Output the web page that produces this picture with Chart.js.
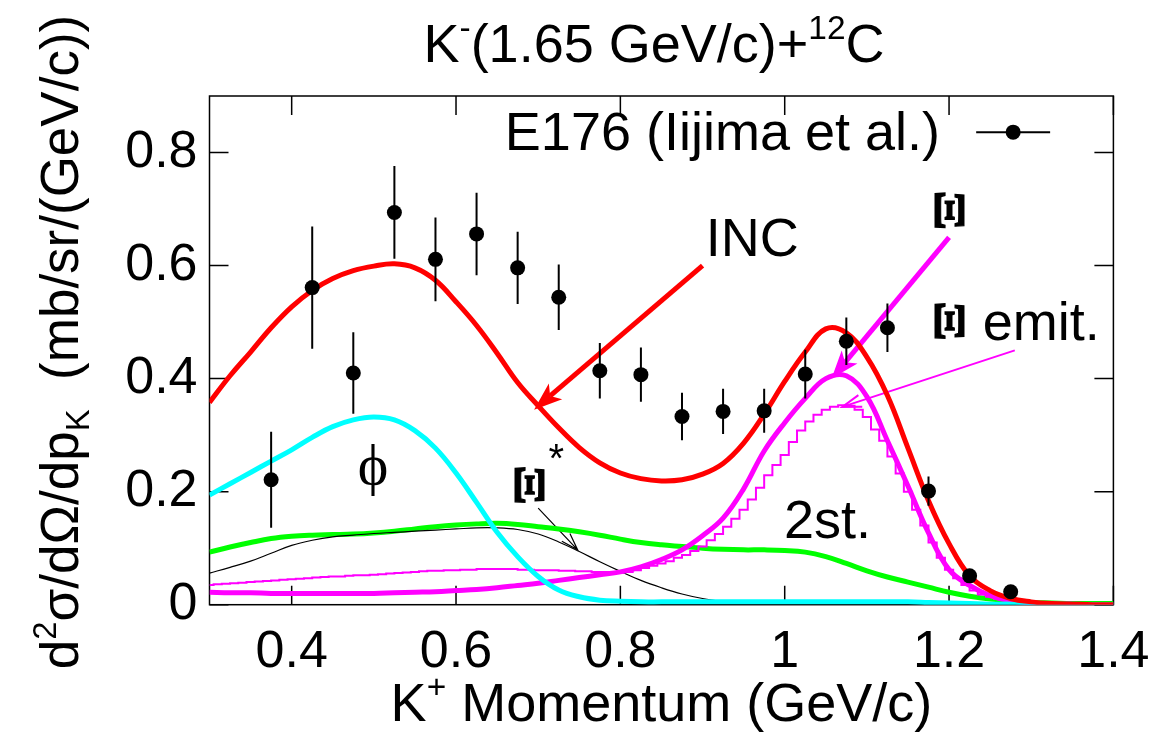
<!DOCTYPE html>
<html>
<head>
<meta charset="utf-8">
<script src="https://cdn.jsdelivr.net/npm/chart.js@4.4.1/dist/chart.umd.min.js"></script>
<style>
  html, body { margin: 0; padding: 0; background: #fff; }
  #wrap { width: 1155px; height: 736px; }
</style>
</head>
<body>
<div id="wrap"><canvas id="c" width="1155" height="736"></canvas></div>
<script>
// ---- measured spectrum: E176 (Iijima et al.) ----
const pointMomentum = [0.375, 0.425, 0.475, 0.525, 0.575, 0.625, 0.675, 0.725, 0.775, 0.825,
                       0.875, 0.925, 0.975, 1.025, 1.075, 1.125, 1.175, 1.225, 1.275];
const pointValue    = [0.221, 0.561, 0.410, 0.694, 0.611, 0.656, 0.596, 0.544, 0.414, 0.407,
                       0.333, 0.342, 0.343, 0.408, 0.466, 0.490, 0.201, 0.051, 0.023];
const pointError    = [0.085, 0.108, 0.072, 0.082, 0.074, 0.073, 0.064, 0.058, 0.049, 0.048,
                       0.042, 0.040, 0.039, 0.043, 0.042, 0.043, 0.026, 0.008, 0.005];

// ---- model curves on a common momentum grid (GeV/c) ----
const momentum = [0.300, 0.325, 0.350, 0.375, 0.400, 0.425, 0.450, 0.475, 0.500, 0.525,
                  0.550, 0.575, 0.600, 0.625, 0.650, 0.675, 0.700, 0.725, 0.750, 0.775,
                  0.800, 0.825, 0.850, 0.875, 0.900, 0.925, 0.950, 0.975, 1.000, 1.025,
                  1.050, 1.075, 1.100, 1.125, 1.150, 1.175, 1.200, 1.225, 1.250, 1.275,
                  1.300, 1.325, 1.350, 1.375, 1.400];
const incTotal = [0.358, 0.405, 0.447, 0.490, 0.527, 0.556, 0.577, 0.591, 0.599, 0.603,
                  0.596, 0.574, 0.536, 0.494, 0.445, 0.393, 0.352, 0.313, 0.278, 0.251,
                  0.233, 0.223, 0.219, 0.221, 0.231, 0.250, 0.286, 0.337, 0.395, 0.447,
                  0.488, 0.481, 0.438, 0.370, 0.277, 0.184, 0.108, 0.051, 0.025, 0.011,
                  0.005, 0.002, 0.001, 0.000, 0.000];
const phiProd  = [0.194, 0.214, 0.234, 0.254, 0.274, 0.296, 0.315, 0.327, 0.332, 0.327,
                  0.308, 0.277, 0.233, 0.181, 0.128, 0.085, 0.050, 0.026, 0.014, 0.008,
                  0.006, 0.005, 0.005, 0.005, 0.005, 0.005, 0.005, 0.005, 0.005, 0.005,
                  0.005, 0.005, 0.005, 0.005, 0.005, 0.004, 0.003, 0.002, 0.001, 0.001,
                  0.000, 0.000, 0.000, 0.000, 0.000];
const xiProd   = [0.022, 0.021, 0.021, 0.020, 0.020, 0.020, 0.020, 0.020, 0.020, 0.021,
                  0.022, 0.023, 0.025, 0.027, 0.030, 0.034, 0.038, 0.043, 0.048, 0.053,
                  0.058, 0.067, 0.080, 0.097, 0.122, 0.153, 0.205, 0.272, 0.322, 0.365,
                  0.400, 0.405, 0.368, 0.290, 0.210, 0.127, 0.062, 0.034, 0.016, 0.007,
                  0.003, 0.001, 0.001, 0.000, 0.000];
const xiStar   = [0.056, 0.066, 0.077, 0.091, 0.105, 0.114, 0.120, 0.123, 0.126, 0.128,
                  0.130, 0.132, 0.134, 0.136, 0.136, 0.133, 0.125, 0.111, 0.094, 0.076,
                  0.059, 0.043, 0.030, 0.019, 0.011, 0.006, 0.003, 0.002, 0.001, 0.000,
                  0.000, 0.000, 0.000, 0.000, 0.000, 0.000, 0.000, 0.000, 0.000, 0.000,
                  0.000, 0.000, 0.000, 0.000, 0.000];
const twoStep  = [0.093, 0.102, 0.110, 0.117, 0.121, 0.123, 0.124, 0.125, 0.127, 0.130,
                  0.134, 0.138, 0.141, 0.143, 0.144, 0.142, 0.138, 0.134, 0.129, 0.123,
                  0.116, 0.110, 0.106, 0.103, 0.100, 0.098, 0.097, 0.097, 0.096, 0.093,
                  0.085, 0.073, 0.060, 0.049, 0.040, 0.031, 0.022, 0.015, 0.010, 0.007,
                  0.004, 0.003, 0.002, 0.002, 0.002];

// ---- Xi emission histogram, 0.01 GeV/c bins ----
const binMomentum = [0.30, 0.31, 0.32, 0.33, 0.34, 0.35, 0.36, 0.37, 0.38, 0.39,
                     0.40, 0.41, 0.42, 0.43, 0.44, 0.45, 0.46, 0.47, 0.48, 0.49,
                     0.50, 0.51, 0.52, 0.53, 0.54, 0.55, 0.56, 0.57, 0.58, 0.59,
                     0.60, 0.61, 0.62, 0.63, 0.64, 0.65, 0.66, 0.67, 0.68, 0.69,
                     0.70, 0.71, 0.72, 0.73, 0.74, 0.75, 0.76, 0.77, 0.78, 0.79,
                     0.80, 0.81, 0.82, 0.83, 0.84, 0.85, 0.86, 0.87, 0.88, 0.89,
                     0.90, 0.91, 0.92, 0.93, 0.94, 0.95, 0.96, 0.97, 0.98, 0.99,
                     1.00, 1.01, 1.02, 1.03, 1.04, 1.05, 1.06, 1.07, 1.08, 1.09,
                     1.10, 1.11, 1.12, 1.13, 1.14, 1.15, 1.16, 1.17, 1.18, 1.19,
                     1.20, 1.21, 1.22, 1.23, 1.24, 1.25, 1.26, 1.27, 1.28, 1.29,
                     1.30, 1.31, 1.32, 1.33, 1.34, 1.35, 1.36, 1.37, 1.38, 1.39,
                     1.40];
const xiEmission  = [0.035, 0.036, 0.037, 0.038, 0.039, 0.040, 0.041, 0.042, 0.043, 0.044,
                     0.045, 0.046, 0.047, 0.048, 0.049, 0.050, 0.050, 0.051, 0.052, 0.052,
                     0.053, 0.054, 0.055, 0.056, 0.057, 0.058, 0.059, 0.060, 0.060, 0.061,
                     0.061, 0.062, 0.062, 0.063, 0.063, 0.063, 0.063, 0.063, 0.062, 0.062,
                     0.061, 0.061, 0.061, 0.060, 0.060, 0.059, 0.059, 0.058, 0.058, 0.057,
                     0.057, 0.058, 0.061, 0.065, 0.069, 0.073, 0.077, 0.083, 0.088, 0.095,
                     0.103, 0.114, 0.125, 0.138, 0.152, 0.168, 0.186, 0.207, 0.229, 0.247,
                     0.265, 0.288, 0.308, 0.324, 0.336, 0.345, 0.350, 0.353, 0.352, 0.345,
                     0.332, 0.310, 0.290, 0.262, 0.232, 0.200, 0.168, 0.140, 0.110, 0.083,
                     0.062, 0.047, 0.035, 0.025, 0.018, 0.014, 0.010, 0.008, 0.006, 0.004,
                     0.003, 0.002, 0.001, 0.000, 0.000, 0.000, 0.000, 0.000, 0.000, 0.000,
                     0.000];

// ---- axis ticks ----
const xTickValues = [0.4, 0.6, 0.8, 1.0, 1.2, 1.4];
const xTickLabels = ['0.4', '0.6', '0.8', '1', '1.2', '1.4'];
const yTickValues = [0, 0.2, 0.4, 0.6, 0.8];
const yTickLabels = ['0', '0.2', '0.4', '0.6', '0.8'];

// ---------------------------------------------------------------------------
const SANS = '"Liberation Sans", Arial, Helvetica, sans-serif';
const SERIF = '"Liberation Serif", "DejaVu Serif", "Times New Roman", serif';
const TEXT_SIZE = 54;

const zip = (xs, ys) => xs.map((x, i) => ({ x, y: ys[i] }));

// arrows, anchored in data coordinates
const arrows = [
  { from: [0.900, 0.600], to: [0.695, 0.345], color: '#ff0000', width: 5, head: 30, angle: 20, filled: true },
  { from: [1.200, 0.650], to: [1.057, 0.400], color: '#ff00ff', width: 5, head: 30, angle: 20, filled: true },
  { from: [1.280, 0.450], to: [1.070, 0.350], color: '#ff00ff', width: 2, head: 20, angle: 18, filled: false },
  { from: [0.700, 0.171], to: [0.748, 0.097], color: '#000000', width: 1.2, head: 18, angle: 18, filled: false }
];

// draw a run of text with super/subscripts, aligned at (x, y baseline)
function drawRich(ctx, parts, x, y, align, size, family) {
  const scale = 0.62;
  const setFont = p => { ctx.font = `${(p.sup || p.sub) ? size * scale : size}px ${family}`; };
  let total = 0;
  parts.forEach(p => { setFont(p); total += ctx.measureText(p.t).width; });
  let cx = align === 'center' ? x - total / 2 : (align === 'right' ? x - total : x);
  ctx.textAlign = 'left';
  ctx.textBaseline = 'alphabetic';
  parts.forEach(p => {
    setFont(p);
    const dy = p.sup ? -0.42 * size : (p.sub ? 0.2 * size : 0);
    ctx.fillText(p.t, cx, y + dy);
    cx += ctx.measureText(p.t).width;
  });
}

function drawArrow(ctx, x1, y1, x2, y2, o) {
  const ang = Math.atan2(y2 - y1, x2 - x1);
  const a = o.angle * Math.PI / 180;
  const L = o.head;
  ctx.save();
  ctx.strokeStyle = o.color;
  ctx.fillStyle = o.color;
  ctx.lineWidth = o.width;
  ctx.lineCap = 'butt';
  const wing = s => [x2 - L * Math.cos(ang + s * a), y2 - L * Math.sin(ang + s * a)];
  if (o.filled) {
    const back = L * Math.cos(a) * 0.75;
    const nx = x2 - back * Math.cos(ang), ny = y2 - back * Math.sin(ang);
    ctx.beginPath(); ctx.moveTo(x1, y1); ctx.lineTo(nx, ny); ctx.stroke();
    const w1 = wing(1), w2 = wing(-1);
    ctx.beginPath();
    ctx.moveTo(x2, y2); ctx.lineTo(w1[0], w1[1]); ctx.lineTo(nx, ny); ctx.lineTo(w2[0], w2[1]);
    ctx.closePath(); ctx.fill();
  } else {
    ctx.beginPath(); ctx.moveTo(x1, y1); ctx.lineTo(x2, y2);
    const w1 = wing(1), w2 = wing(-1);
    ctx.moveTo(w1[0], w1[1]); ctx.lineTo(x2, y2); ctx.lineTo(w2[0], w2[1]);
    ctx.stroke();
  }
  ctx.restore();
}

// Xi glyph turned a quarter turn, its ink fitted to a boxW x boxH box centred at (px, py)
function drawXi(ctx, px, py, boxW, boxH) {
  ctx.save();
  ctx.font = `bold 100px ${SERIF}`;
  ctx.textAlign = 'left';
  ctx.textBaseline = 'alphabetic';
  const m = ctx.measureText('\u039E');
  const inkW = m.actualBoundingBoxLeft + m.actualBoundingBoxRight;
  const inkH = m.actualBoundingBoxAscent + m.actualBoundingBoxDescent;
  const cx = (m.actualBoundingBoxRight - m.actualBoundingBoxLeft) / 2;
  const cy = (m.actualBoundingBoxDescent - m.actualBoundingBoxAscent) / 2;
  const sx = (boxH - 1) / inkW, sy = (boxW - 1) / inkH;
  ctx.translate(px, py);
  ctx.rotate(Math.PI / 2);
  // glyph x now runs down the page, glyph y runs leftwards
  ctx.scale(sx, sy);
  ctx.fillText('\u039E', -cx, -cy);
  ctx.strokeStyle = ctx.fillStyle;
  ctx.lineWidth = 1 / Math.min(sx, sy);
  ctx.strokeText('\u039E', -cx, -cy);
  ctx.restore();
}

// box frame with inward ticks on all four sides, plus arrows
const framePlugin = {
  id: 'frame',
  beforeDatasetsDraw(chart) {
    const { ctx, chartArea: a, scales: { x, y } } = chart;
    ctx.save();
    ctx.strokeStyle = '#000';
    ctx.lineWidth = 1.5;
    ctx.strokeRect(a.left, a.top, a.right - a.left, a.bottom - a.top);
    const L = 19;
    ctx.beginPath();
    x.ticks.forEach(t => {
      const px = x.getPixelForValue(t.value);
      ctx.moveTo(px, a.bottom); ctx.lineTo(px, a.bottom - L);
      ctx.moveTo(px, a.top); ctx.lineTo(px, a.top + L);
    });
    y.ticks.forEach(t => {
      const py = y.getPixelForValue(t.value);
      ctx.moveTo(a.left, py); ctx.lineTo(a.left + L, py);
      ctx.moveTo(a.right, py); ctx.lineTo(a.right - L, py);
    });
    ctx.stroke();
    ctx.restore();
    arrows.forEach(ar => {
      drawArrow(ctx,
        x.getPixelForValue(ar.from[0]), y.getPixelForValue(ar.from[1]),
        x.getPixelForValue(ar.to[0]), y.getPixelForValue(ar.to[1]), ar);
    });
  }
};

// vertical error bars under the measured points
const errorBarPlugin = {
  id: 'errorBars',
  beforeDatasetDraw(chart, args) {
    if (args.index !== 0) return;
    const { ctx, scales: { x, y } } = chart;
    ctx.save();
    ctx.strokeStyle = '#000';
    ctx.lineWidth = 2;
    ctx.beginPath();
    pointMomentum.forEach((m, i) => {
      const px = x.getPixelForValue(m);
      ctx.moveTo(px, y.getPixelForValue(pointValue[i] + pointError[i]));
      ctx.lineTo(px, y.getPixelForValue(pointValue[i] - pointError[i]));
    });
    ctx.stroke();
    ctx.restore();
  }
};

// curve labels, key and axis titles
const labelPlugin = {
  id: 'labels',
  afterDatasetsDraw(chart) {
    const { ctx, scales: { x, y } } = chart;
    const X = v => x.getPixelForValue(v), Y = v => y.getPixelForValue(v);
    ctx.save();
    ctx.fillStyle = '#000';
    ctx.textAlign = 'left';
    ctx.textBaseline = 'alphabetic';
    ctx.font = `${TEXT_SIZE}px ${SANS}`;
    ctx.fillText('INC', X(0.904), Y(0.617));
    ctx.fillText('2st.', X(0.999), Y(0.118));
    ctx.fillText('emit.', X(1.241), Y(0.469));
    drawXi(ctx, X(1.201), Y(0.698), 30, 36);
    drawXi(ctx, X(1.200), Y(0.502), 30, 36);
    drawXi(ctx, X(0.690), Y(0.212), 30, 36);
    ctx.font = `40px ${SANS}`;
    ctx.textAlign = 'center';
    ctx.textBaseline = 'middle';
    ctx.fillText('*', X(0.722), Y(0.255));
    ctx.font = `58px ${SERIF}`;
    ctx.fillText('\u03D5', X(0.499), Y(0.240));

    // key
    ctx.font = `${TEXT_SIZE}px ${SANS}`;
    ctx.textAlign = 'right';
    ctx.textBaseline = 'alphabetic';
    ctx.fillText('E176 (Iijima et al.)', X(1.189), Y(0.805));
    ctx.strokeStyle = '#000';
    ctx.lineWidth = 2;
    ctx.beginPath();
    ctx.moveTo(X(1.233), Y(0.836)); ctx.lineTo(X(1.323), Y(0.836));
    ctx.stroke();
    ctx.beginPath();
    ctx.arc(X(1.278), Y(0.836), 7.5, 0, Math.PI * 2);
    ctx.fill();
    ctx.restore();
  },
  afterDraw(chart) {
    const { ctx, chartArea: a } = chart;
    ctx.save();
    ctx.fillStyle = '#000';
    drawRich(ctx, [{ t: 'K' }, { t: '-', sup: true }, { t: '(1.65 GeV/c)+' }, { t: '12', sup: true }, { t: 'C' }],
             654, 62, 'center', TEXT_SIZE, SANS);
    drawRich(ctx, [{ t: 'K' }, { t: '+', sup: true }, { t: ' Momentum (GeV/c)' }],
             (a.left + a.right) / 2, 721, 'center', TEXT_SIZE, SANS);
    ctx.translate(78, 342);
    ctx.rotate(-Math.PI / 2);
    drawRich(ctx, [{ t: 'd' }, { t: '2', sup: true }, { t: '\u03C3/d\u03A9/dp' }, { t: 'K', sub: true },
                   { t: '  (mb/sr/(GeV/c))' }], 0, 0, 'center', 53, SANS);
    ctx.restore();
  }
};

const curve = (label, xs, ys, color, width, order) => ({
  label, data: zip(xs, ys), borderColor: color, backgroundColor: color,
  borderWidth: width, pointRadius: 0, fill: false, order,
  tension: 0.4, borderJoinStyle: 'round'
});

new Chart(document.getElementById('c'), {
  type: 'line',
  data: {
    datasets: [
      { label: 'E176 (Iijima et al.)', data: zip(pointMomentum, pointValue), showLine: false,
        pointRadius: 7.5, pointBackgroundColor: '#000', pointBorderWidth: 0, order: 0 },
      curve('INC', momentum, incTotal, '#ff0000', 5, 1),
      curve('\u03C6', momentum, phiProd, '#00ffff', 5, 2),
      curve('\u039E', momentum, xiProd, '#ff00ff', 5, 3),
      { label: '\u039E emit.', data: zip(binMomentum, xiEmission), borderColor: '#ff00ff',
        borderWidth: 2, pointRadius: 0, fill: false, stepped: 'middle', order: 4 },
      curve('\u039E*', momentum, xiStar, '#000000', 1.2, 5),
      curve('2st.', momentum, twoStep, '#00ff00', 5, 6)
    ]
  },
  options: {
    responsive: false,
    animation: false,
    devicePixelRatio: 1,
    layout: { padding: { top: 96, right: 41.6, left: 0, bottom: 0 } },
    plugins: { legend: { display: false }, tooltip: { enabled: false }, title: { display: false } },
    events: [],
    scales: {
      x: {
        type: 'linear', min: 0.3, max: 1.4,
        afterBuildTicks: s => { s.ticks = xTickValues.map(v => ({ value: v })); },
        afterFit: s => { s.height = 131.3; s.paddingLeft = 0; s.paddingRight = 0; },
        grid: { display: false, drawTicks: false },
        border: { display: false },
        ticks: {
          autoSkip: false, maxRotation: 0, padding: 17, color: '#000',
          font: { family: SANS, size: 52 },
          callback: v => xTickLabels[xTickValues.indexOf(v)]
        }
      },
      y: {
        type: 'linear', min: 0, max: 0.9,
        afterBuildTicks: s => { s.ticks = yTickValues.map(v => ({ value: v })); },
        afterFit: s => { s.width = 209.5; s.paddingTop = 0; s.paddingBottom = 0; },
        grid: { display: false, drawTicks: false },
        border: { display: false },
        ticks: {
          autoSkip: false, padding: 12, color: '#000',
          font: { family: SANS, size: 52 },
          callback: v => yTickLabels[yTickValues.indexOf(v)]
        }
      }
    }
  },
  plugins: [framePlugin, errorBarPlugin, labelPlugin]
});
</script>
</body>
</html>
